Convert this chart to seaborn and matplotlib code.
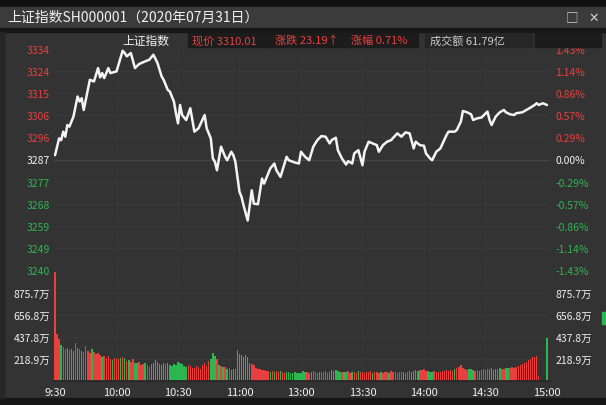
import numpy as np
import pandas as pd
import seaborn as sns
import matplotlib.pyplot as plt
from matplotlib.patches import Rectangle

# Data -------------------------------------------------------------------
prev_close = 3286.82
last_price = "3310.01"
change = "23.19"
change_pct = "0.71%"
turnover = "61.79亿"
title = "上证指数SH000001（2020年07月31日）"

# traced vertices of the intraday line (minute index, price)
price_minute = [0, 2, 3, 4, 5, 6, 7, 9, 11, 12, 13, 14, 16, 17, 19, 21, 22, 23,
                24, 26, 27, 30, 33, 34, 35, 37, 39, 41, 44, 46, 48, 50, 52, 53,
                55, 56, 58, 59, 60, 61, 62, 64, 66, 68, 70, 73, 74, 76, 77, 78,
                79, 81, 83, 84, 86, 87, 88, 90, 91, 92, 94, 96, 97, 99, 101,
                102, 104, 105, 107, 108, 110, 113, 114, 117, 119, 120, 122, 124,
                126, 128, 130, 132, 134, 135, 137, 138, 140, 142, 143, 145, 146,
                148, 150, 151, 153, 155, 157, 158, 160, 162, 164, 165, 167, 169,
                171, 173, 175, 176, 178, 180, 181, 183, 184, 186, 188, 191, 192,
                195, 196, 198, 199, 201, 203, 204, 206, 208, 211, 212, 213, 215,
                217, 219, 220, 222, 224, 225, 228, 230, 232, 234, 235, 236, 238,
                240]
price_value = [3288.66, 3295.79, 3295.07, 3298.66, 3296.52, 3301.48, 3300.79,
               3305.07, 3313.61, 3311.48, 3312.89, 3307.89, 3316.43, 3320.70,
               3320.02, 3325.70, 3321.73, 3323.57, 3321.43, 3325.70, 3323.57,
               3324.29, 3333.10, 3332.11, 3330.70, 3332.11, 3325.70, 3327.41,
               3328.57, 3329.25, 3331.39, 3327.84, 3322.16, 3320.70, 3316.43,
               3315.75, 3311.48, 3306.48, 3302.20, 3310.02, 3305.75, 3303.61,
               3308.61, 3298.66, 3300.07, 3305.75, 3300.07, 3295.79, 3287.25,
               3285.84, 3282.25, 3292.25, 3287.97, 3286.52, 3290.11, 3288.66,
               3285.84, 3273.02, 3270.88, 3267.29, 3260.88, 3273.70, 3268.02,
               3267.80, 3278.70, 3276.56, 3280.84, 3282.97, 3285.11, 3282.25,
               3279.43, 3287.97, 3286.52, 3285.54, 3285.11, 3290.11, 3287.97,
               3286.52, 3292.25, 3295.07, 3296.78, 3296.52, 3293.66, 3295.07,
               3296.09, 3290.79, 3287.25, 3284.68, 3286.09, 3285.11, 3289.38,
               3290.79, 3284.38, 3290.11, 3294.38, 3293.66, 3292.93, 3290.11,
               3292.93, 3294.38, 3295.07, 3296.09, 3297.93, 3296.52, 3298.36,
               3297.93, 3291.52, 3294.38, 3292.93, 3292.67, 3289.38, 3287.25,
               3286.52, 3290.11, 3291.52, 3297.20, 3298.66, 3298.66, 3299.34,
               3302.93, 3307.46, 3306.90, 3306.05, 3303.61, 3304.34, 3304.64,
               3307.20, 3303.61, 3301.48, 3305.07, 3306.90, 3307.89, 3306.90,
               3306.05, 3305.75, 3306.48, 3306.90, 3307.89, 3308.91, 3310.02,
               3310.75, 3310.02, 3310.75, 3310.01]

# per-minute volume (万), 9:30-11:30 then 13:01-15:00
vol_morning = [1085, 465, 415, 355, 335, 320, 330, 310, 320, 300,
               375, 330, 320, 300, 290, 345, 300, 280, 315, 290,
               270, 280, 255, 240, 250, 230, 245, 220, 210, 230,
               222, 215, 230, 242, 225, 200, 210, 190, 215, 180,
               175, 190, 155, 170, 180, 160, 140, 165, 175, 210,
               185, 170, 160, 175, 165, 180, 160, 150, 170, 155,
               190, 175, 165, 150, 140, 160, 145, 130, 125, 150,
               135, 120, 155, 175, 145, 200, 220, 275, 250, 220,
               160, 150, 135, 140, 120, 125, 110, 120, 115, 308,
               270, 255, 240, 260, 235, 175, 165, 160, 130, 115,
               120, 105, 110, 95, 100, 90, 95, 85, 100, 90,
               95, 85, 80, 90, 85, 80, 75, 85, 80, 75,
               80]
vol_afternoon = [95, 85, 90, 80, 85, 95, 90, 80, 85, 90,
                 85, 95, 80, 90, 105, 100, 107, 95, 90, 85,
                 90, 85, 95, 80, 90, 85, 80, 95, 90, 85,
                 80, 90, 85, 95, 80, 85, 90, 80, 85, 80,
                 90, 85, 80, 95, 85, 90, 80, 85, 90, 85,
                 80, 90, 95, 85, 100, 105, 95, 110, 105, 117,
                 100, 95, 90, 85, 95, 90, 85, 90, 100, 95,
                 105, 100, 110, 95, 120, 125, 140, 156, 130, 117,
                 110, 115, 120, 105, 100, 110, 95, 105, 115, 110,
                 120, 115, 125, 110, 115, 120, 125, 115, 120, 125,
                 130, 125, 135, 130, 140, 145, 155, 165, 175, 190,
                 205, 220, 235, 240, 249, 50, 0, 0, 0, 432]
# r = up minute, g = down minute
vol_dir = ("rrrgrrgrgg" "rgrgrrrrgr" "rrrgrrrrgr" "rrgrgrgrrg" "grrrgrrggg"
           "ggggrggggg" "gggggrrrrr" "rrrrrrgggr" "grgrgrggrg" "ggggggrrrr"
           "rrrrrgrgrr" "grrggggggg" "g"
           "ggrrgrrrgr" "rrrrgggggr" "ggrrgrrgrr" "rrrrgrrrgr" "rrgrrrrrrg"
           "rrrggggrrr" "rgggrrrrrr" "rrrrgrrrrr" "rgggrrgrrr" "rggggggrrg"
           "grrrrrrrrr" "rrrrrrrrrg")

pct_ticks = [1.43, 1.14, 0.86, 0.57, 0.29, 0.00, -0.29, -0.57, -0.86, -1.14, -1.43]
price_labels = ["3334", "3324", "3315", "3306", "3296", "3287",
                "3277", "3268", "3259", "3249", "3240"]
pct_labels = ["1.43%", "1.14%", "0.86%", "0.57%", "0.29%", "0.00%",
              "-0.29%", "-0.57%", "-0.86%", "-1.14%", "-1.43%"]
vol_ticks = [218.9, 437.8, 656.8, 875.7]
vol_labels = ["218.9万", "437.8万", "656.8万", "875.7万"]
time_ticks = [0, 30, 60, 90, 120, 150, 180, 210, 240]
time_labels = ["9:30", "10:00", "10:30", "11:00", "13:00",
               "13:30", "14:00", "14:30", "15:00"]

# Style -------------------------------------------------------------------
RED = "#e8403f"
GREEN = "#2db552"
BG = "#333333"
GRID = "#3b3b3b"

sns.set_theme(style="dark", rc={"axes.facecolor": BG, "figure.facecolor": BG})
plt.rcParams['font.family'] = ['Noto Sans CJK SC', 'DejaVu Sans']

W, H = 606, 406
fig = plt.figure(figsize=(W / 100, H / 100), dpi=100)


def box(x, y, w, h, color):
    # rectangle given in pixel coordinates from the top-left corner
    fig.patches.append(Rectangle((x / W, 1 - (y + h) / H), w / W, h / H,
                                 transform=fig.transFigure, color=color,
                                 zorder=0))


def label(x, y, s, **kw):
    fig.text(x / W, 1 - y / H, s, va="center", **kw)


# window chrome
box(0, 0, W, 8, "#111111")
box(0, 8, W, 21, "#3b3b3b")
box(0, 29, W, 4, "#161616")
box(0, 399, W, 7, "#161616")
box(0, 33, 4, 366, "#262626")
box(602, 313, 4, 12, GREEN)
label(7, 18, title, color="#f0f0f0", fontsize=10)
label(566, 18, "□", color="#cfcfcf", fontsize=9)
label(588, 18, "✕", color="#cfcfcf", fontsize=9, family="DejaVu Sans")

# header row
label(122, 41, "上证指数", color="#f2f2f2", fontsize=8.5)
box(188, 34, 82, 14, "#1c1c1c")
box(271, 34, 76, 14, "#1c1c1c")
box(348, 34, 70, 14, "#1c1c1c")
box(425, 34, 107, 14, "#262626")
box(535, 34, 66, 14, "#1c1c1c")
label(192, 41, "现价 " + last_price, color=RED, fontsize=8)
label(275, 41, "涨跌 " + change + "↑", color=RED, fontsize=8)
label(351, 41, "涨幅 " + change_pct, color=RED, fontsize=8)
label(430, 41, "成交额 " + turnover, color="#cccccc", fontsize=8)

# Price panel ---------------------------------------------------------------
ax_p = fig.add_axes([54 / W, 1 - 271 / H, 496 / W, 221 / H])
sns.lineplot(x=price_minute, y=price_value, ax=ax_p, color="#f4f4f4",
             linewidth=1.8)
price_ticks = [prev_close * (1 + p / 100) for p in pct_ticks]
ax_p.set_ylim(price_ticks[-1], price_ticks[0])
ax_p.set_xlim(-0.5, 241.5)
ax_p.set_xticks([])
ax_p.set_yticks(price_ticks)
ax_p.set_yticklabels(price_labels)
tick_colors = [RED if p > 0 else ("#f2f2f2" if p == 0 else GREEN)
               for p in pct_ticks]
for lab, c in zip(ax_p.get_yticklabels(), tick_colors):
    lab.set_color(c)
ax_p.tick_params(axis="y", length=0, pad=3, labelsize=7.5)
for t in time_ticks[1:-1]:
    ax_p.axvline(t, color=GRID, lw=0.8, ls=(0, (1, 1)), zorder=0)
for p in price_ticks[1:-1]:
    ax_p.axhline(p, color=GRID, lw=0.6, zorder=0)
ax_p.axhline(prev_close, color="#464646", lw=0.9, zorder=0)

ax_r = ax_p.twinx()
ax_r.set_ylim(pct_ticks[-1], pct_ticks[0])
ax_r.set_yticks(pct_ticks)
ax_r.set_yticklabels(pct_labels)
for lab, c in zip(ax_r.get_yticklabels(), tick_colors):
    lab.set_color(c)
ax_r.tick_params(axis="y", length=0, pad=4, labelsize=7.5)
ax_r.grid(False)
for a in (ax_p, ax_r):
    for s in a.spines.values():
        s.set_visible(False)

# Volume panel ------------------------------------------------------------
vols = pd.DataFrame({
    "minute": np.arange(len(vol_morning) + len(vol_afternoon)),
    "volume": vol_morning + vol_afternoon,
    "dir": list(vol_dir),
})
ax_v = fig.add_axes([54 / W, 1 - 382 / H, 496 / W, 110 / H])
ax_v.set_facecolor("none")
sns.barplot(data=vols, x="minute", y="volume", hue="dir",
            palette={"r": RED, "g": GREEN}, native_scale=True, dodge=False,
            width=0.7, saturation=1, errorbar=None, legend=False, ax=ax_v,
            linewidth=0)
for bar in ax_v.patches:
    bar.set_antialiased(False)
ax_v.set_xlim(-0.5, 241.5)
ax_v.set_ylim(0, 1094.5)
ax_v.set_yticks(vol_ticks)
ax_v.set_yticklabels(vol_labels)
ax_v.set_xticks(time_ticks)
ax_v.set_xticklabels(time_labels)
ax_v.set_xlabel("")
ax_v.set_ylabel("")
ax_v.tick_params(axis="y", length=0, pad=3, labelsize=7.5, colors="#eeeeee")
ax_v.tick_params(axis="x", length=0, pad=4, labelsize=8, colors="#eeeeee")
for t in time_ticks[1:-1]:
    ax_v.axvline(t, color=GRID, lw=0.8, ls=(0, (1, 1)), zorder=0)
for v in vol_ticks:
    ax_v.axhline(v, color=GRID, lw=0.6, zorder=0)

ax_vr = ax_v.twinx()
ax_vr.set_ylim(0, 1094.5)
ax_vr.set_yticks(vol_ticks)
ax_vr.set_yticklabels(vol_labels)
ax_vr.tick_params(axis="y", length=0, pad=4, labelsize=7.5, colors="#eeeeee")
ax_vr.grid(False)
for a in (ax_v, ax_vr):
    for s in a.spines.values():
        s.set_visible(False)
ax_v.spines["bottom"].set_visible(True)
ax_v.spines["bottom"].set_color("#262626")

fig.savefig("out.png", dpi=100, facecolor=BG)
